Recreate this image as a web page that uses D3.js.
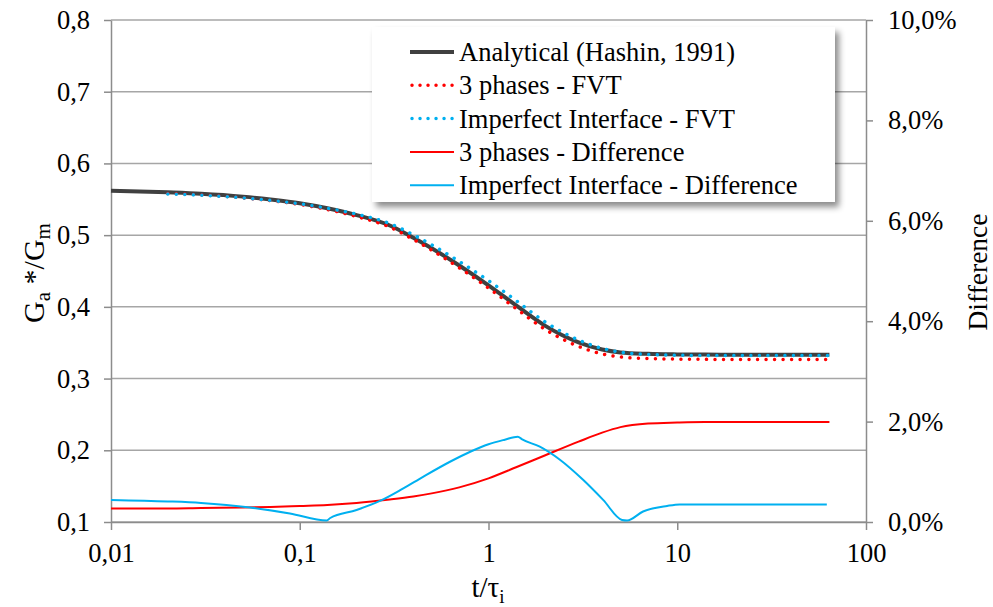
<!DOCTYPE html>
<html>
<head>
<meta charset="utf-8">
<script src="https://cdn.jsdelivr.net/npm/d3@7"></script>
<style>
  body { margin: 0; background: #fff; }
  svg text { font-family: "Liberation Serif", Tinos, "Times New Roman", Times, serif; fill: #000; }
</style>
</head>
<body>
<svg id="chart" width="993" height="607"></svg>
<script>
// Analytical (Hashin, 1991)
const tAnalytic = [0.01, 0.02, 0.03, 0.05, 0.07, 0.1, 0.14, 0.2, 0.3, 0.4, 0.5, 0.7, 1, 1.4, 2, 3, 4, 5, 7, 10, 14, 20, 30, 45, 64];
const analytic = [0.562, 0.5597, 0.5578, 0.5537, 0.5497, 0.5445, 0.5375, 0.528, 0.5135, 0.4965, 0.4818, 0.4577, 0.430, 0.402, 0.3735, 0.3505, 0.3405, 0.3365, 0.3345, 0.3337, 0.3334, 0.3333, 0.3333, 0.3333, 0.3333];

// FVT results
const tFvt = [0.02, 0.03, 0.05, 0.07, 0.1, 0.14, 0.2, 0.3, 0.4, 0.5, 0.7, 1, 1.4, 2, 3, 4, 5, 7, 10, 14, 20, 30, 45, 64];
const threePhasesFvt = [0.5582, 0.5562, 0.5521, 0.5481, 0.5428, 0.5357, 0.5260, 0.5112, 0.4940, 0.4791, 0.4545, 0.4263, 0.3976, 0.3685, 0.3449, 0.3344, 0.3301, 0.3279, 0.3271, 0.3268, 0.3267, 0.3267, 0.3267, 0.3267];
const imperfectFvt = [0.5574, 0.5557, 0.5520, 0.5484, 0.5437, 0.5373, 0.5293, 0.5161, 0.5004, 0.4865, 0.4633, 0.4366, 0.4088, 0.3788, 0.3538, 0.3421, 0.3368, 0.3337, 0.3325, 0.3322, 0.3321, 0.3321, 0.3321, 0.3321];

// differences (%), right axis
const tRedDiff = [0.01, 0.02, 0.03, 0.05, 0.07, 0.1, 0.14, 0.2, 0.3, 0.4, 0.5, 0.7, 1, 1.4, 2, 3, 4, 5, 7, 10, 14, 20, 30, 45, 64];
const threePhasesDiff = [0.27, 0.27, 0.28, 0.29, 0.30, 0.32, 0.34, 0.38, 0.45, 0.51, 0.57, 0.69, 0.87, 1.09, 1.33, 1.60, 1.78, 1.89, 1.96, 1.98, 1.99, 1.99, 1.99, 1.99, 1.99];
const tBlueDiff = [0.01, 0.02, 0.03, 0.0545, 0.0887, 0.139, 0.145, 0.2, 0.266, 0.35, 0.45, 0.625, 0.8, 1.0, 1.22, 1.43, 1.5, 1.87, 2.39, 3.17, 4.05, 5.1, 5.42, 6.59, 8.83, 10.3, 20, 62];
const imperfectDiff = [0.44, 0.41, 0.38, 0.29, 0.17, 0.03, 0.08, 0.24, 0.42, 0.66, 0.90, 1.20, 1.40, 1.55, 1.64, 1.70, 1.65, 1.50, 1.24, 0.84, 0.44, 0.04, 0.03, 0.21, 0.32, 0.35, 0.35, 0.35];

const xTicks = [0.01, 0.1, 1, 10, 100];
const yTicks = [0.1, 0.2, 0.3, 0.4, 0.5, 0.6, 0.7, 0.8];
const y2Ticks = [0, 2, 4, 6, 8, 10];

const legendItems = [
  { label: "Analytical (Hashin, 1991)", color: "#404040", dotted: false, width: 4 },
  { label: "3 phases - FVT", color: "#ff0000", dotted: true, width: 3.5 },
  { label: "Imperfect Interface - FVT", color: "#00b0f0", dotted: true, width: 3.5 },
  { label: "3 phases - Difference", color: "#ff0000", dotted: false, width: 2 },
  { label: "Imperfect Interface - Difference", color: "#00b0f0", dotted: false, width: 2 }
];

const svg = d3.select("#chart");
const plot = { left: 111, right: 866, top: 20, bottom: 522 };
const axisColor = "#8c8c8c";

const x = d3.scaleLog().domain([0.01, 100]).range([plot.left, plot.right]);
const y = d3.scaleLinear().domain([0.1, 0.8]).range([plot.bottom, plot.top]);
const y2 = d3.scaleLinear().domain([0, 10]).range([plot.bottom, plot.top]);

const comma = (s) => s.replace(".", ",");

// gridlines
svg.append("g")
  .selectAll("line")
  .data(yTicks)
  .join("line")
  .attr("x1", plot.left).attr("x2", plot.right)
  .attr("y1", (d) => y(d)).attr("y2", (d) => y(d))
  .attr("stroke", "#a6a6a6")
  .attr("stroke-width", 1.5);

function styleAxis(g) {
  g.attr("font-family", null);
  g.select(".domain").attr("stroke", axisColor).attr("stroke-width", 1.5);
  g.selectAll(".tick line").attr("stroke", axisColor).attr("stroke-width", 1.5);
  g.selectAll(".tick text").style("font-size", "26.5px").attr("fill", "#000");
}

svg.append("g")
  .attr("transform", `translate(${plot.left},0)`)
  .call(d3.axisLeft(y).tickValues(yTicks).tickSize(7).tickPadding(14).tickSizeOuter(0)
    .tickFormat((d) => comma(d3.format(".1f")(d))))
  .call(styleAxis);

svg.append("g")
  .attr("transform", `translate(${plot.right},0)`)
  .call(d3.axisRight(y2).tickValues(y2Ticks).tickSize(7).tickPadding(15).tickSizeOuter(0)
    .tickFormat((d) => comma(d3.format(".1f")(d)) + "%"))
  .call(styleAxis);

svg.append("g")
  .attr("transform", `translate(0,${plot.bottom})`)
  .call(d3.axisBottom(x).tickValues(xTicks).tickSize(8).tickPadding(13).tickSizeOuter(0)
    .tickFormat((d) => comma(String(d))))
  .call(styleAxis);

// series
const line = (xs, ys, yScale) =>
  d3.line().x((d, i) => x(xs[i])).y((d) => yScale(d)).curve(d3.curveMonotoneX)(ys);

svg.append("path")
  .attr("d", line(tAnalytic, analytic, y))
  .attr("fill", "none").attr("stroke", "#404040").attr("stroke-width", 4);

svg.append("path")
  .attr("d", line(tFvt, threePhasesFvt, y))
  .attr("fill", "none").attr("stroke", "#ff0000").attr("stroke-width", 3.5)
  .attr("stroke-linecap", "round").attr("stroke-dasharray", "0.01 8.5");

svg.append("path")
  .attr("d", line(tFvt, imperfectFvt, y))
  .attr("fill", "none").attr("stroke", "#00b0f0").attr("stroke-width", 3.5)
  .attr("stroke-linecap", "round").attr("stroke-dasharray", "0.01 8.5");

svg.append("path")
  .attr("d", line(tRedDiff, threePhasesDiff, y2))
  .attr("fill", "none").attr("stroke", "#ff0000").attr("stroke-width", 2);

svg.append("path")
  .attr("d", line(tBlueDiff, imperfectDiff, y2))
  .attr("fill", "none").attr("stroke", "#00b0f0").attr("stroke-width", 2)
  .attr("stroke-linejoin", "round");

// axis titles
const yTitle = svg.append("text")
  .attr("transform", "translate(44,273) rotate(-90)")
  .attr("text-anchor", "middle")
  .style("font-size", "30px");
yTitle.append("tspan").text("G");
yTitle.append("tspan").attr("dy", 6).style("font-size", "21px").text("a");
yTitle.append("tspan").attr("dy", -6).text(" */G");
yTitle.append("tspan").attr("dy", 6).style("font-size", "21px").text("m");

svg.append("text")
  .attr("transform", "translate(987,272) rotate(-90)")
  .attr("text-anchor", "middle")
  .style("font-size", "27.5px")
  .text("Difference");

const xTitle = svg.append("text")
  .attr("x", 488).attr("y", 597)
  .attr("text-anchor", "middle")
  .style("font-size", "29px");
xTitle.append("tspan").text("t/τ");
xTitle.append("tspan").attr("dy", 6).style("font-size", "19px").text("i");

// legend
const defs = svg.append("defs");
const shadow = defs.append("filter").attr("id", "shadow")
  .attr("x", "-5%").attr("y", "-5%").attr("width", "115%").attr("height", "125%");
shadow.append("feDropShadow").attr("dx", 4).attr("dy", 5).attr("stdDeviation", 3)
  .attr("flood-color", "#000").attr("flood-opacity", 0.45);

const legend = svg.append("g");
legend.append("rect")
  .attr("x", 372).attr("y", 27).attr("width", 463).attr("height", 175)
  .attr("fill", "#fff").attr("filter", "url(#shadow)");

const rows = legend.selectAll("g.row")
  .data(legendItems)
  .join("g")
  .attr("class", "row")
  .attr("transform", (d, i) => `translate(0,${52 + i * 33.3})`);

rows.append("line")
  .attr("x1", (d) => (d.dotted ? 412 : 410)).attr("x2", 454)
  .attr("stroke", (d) => d.color)
  .attr("stroke-width", (d) => d.width)
  .attr("stroke-linecap", (d) => (d.dotted ? "round" : "butt"))
  .attr("stroke-dasharray", (d) => (d.dotted ? "0.01 8" : null));

rows.append("text")
  .attr("x", 459).attr("dy", "0.34em")
  .style("font-size", "26.5px")
  .text((d) => d.label);
</script>
</body>
</html>
